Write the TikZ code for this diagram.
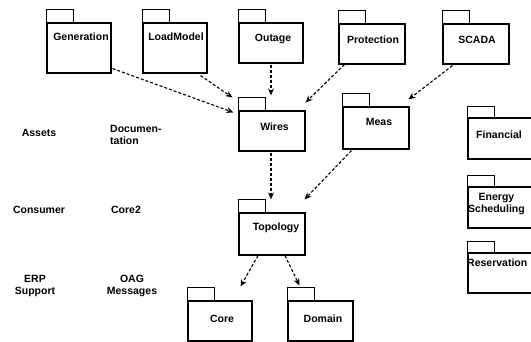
\documentclass[tikz,border=0pt]{standalone}
\usepackage{fontspec}
\setmainfont{Liberation Sans}
\usetikzlibrary{arrows.meta,calc}
\begin{document}
\begin{tikzpicture}[x=1pt,y=-1pt,
  pkgbody/.style={draw=black, line width=1.1pt, minimum width=66pt, minimum height=40pt, inner sep=0pt},
  pkgtab/.style={draw=black, line width=1.1pt},
  lbl/.style={font=\bfseries\fontsize{10.5}{12}\selectfont, inner sep=0pt, align=center},
  dep/.style={draw=black, line width=1.1pt, dash pattern=on 3pt off 2pt,
    -{Stealth[open, length=7pt, width=6pt]}}]
\useasboundingbox (0,0) rectangle (531,342);

% package bodies
\node[pkgbody, minimum width=64pt, minimum height=50pt] (gen)   at (79,48) {};
\node[pkgbody, minimum width=64pt, minimum height=50pt] (load)  at (175,48) {};
\node[pkgbody, minimum width=64pt] (outage) at (271,43) {};
\node[pkgbody] (prot)   at (372,44) {};
\node[pkgbody] (scada)  at (476,44) {};
\node[pkgbody] (wires)  at (272,131) {};
\node[pkgbody, minimum height=42pt] (meas)  at (376,128) {};
\node[pkgbody, minimum height=42pt] (topo)  at (272,234) {};
\node[pkgbody, minimum width=64pt] (core)   at (220,321) {};
\node[pkgbody, minimum width=65pt] (domain) at (320.5,321) {};
\node[pkgbody, minimum height=41pt] (fin)   at (501,138.5) {};
\node[pkgbody, minimum height=41pt] (energy) at (501,207.5) {};
\node[pkgbody] (resv)   at (501,273) {};

% package tabs
\foreach \p in {gen,load,outage,prot,scada,wires,meas,topo,core,domain}
  \draw[pkgtab] (\p.north west) rectangle ++(27,-13);
\foreach \p in {fin,energy,resv}
  \draw[pkgtab] (\p.north west) rectangle ++(27,-11);

% package names
\node[lbl] at (81,37)  {Generation};
\node[lbl] at (176,37) {LoadModel};
\node[lbl] at (273,39) {Outage};
\node[lbl] at (373,40) {Protection};
\node[lbl] at (477,40) {SCADA};
\node[lbl] at (274.5,127) {Wires};
\node[lbl] at (379,122) {Meas};
\node[lbl] at (276,228) {Topology};
\node[lbl] at (222,319) {Core};
\node[lbl] at (323,319) {Domain};
\node[lbl] at (499,135) {Financial};
\node[lbl, anchor=west, align=center] at (468,204) {Energy\\Scheduling};
\node[lbl, anchor=west] at (467,263) {Reservation};

% packages without boxes
\node[lbl] (assets)   at (39,133) {Assets};
\node[lbl, anchor=west, align=left] (doc) at (110,135) {Documen-\\tation};
\node[lbl] (consumer) at (39,210) {Consumer};
\node[lbl] (core2)    at (126,210) {Core2};
\node[lbl] (erp)      at (35,286) {ERP\\Support};
\node[lbl] (oag)      at (132,286) {OAG\\Messages};

% dependencies
\draw[dep] ($(gen.south east)+(1,-5)$) -- ($(wires.north west)+(-5,2)$);
\draw[dep] ($(load.south east)+(-7,2)$) -- ($(wires.north west)+(-6,-13)$);
\draw[dep] ($(outage.south)+(0,1)$) -- ($(wires.north)+(-1,-15)$);
\draw[dep] ($(prot.south west)+(6,0)$) -- ($(wires.north east)+(0,-8)$);
\draw[dep] ($(scada.south west)+(10,1)$) -- ($(meas.north east)+(-1,-7)$);
\draw[dep] ($(wires.south)+(-1,1)$) -- ($(topo.north)+(-1,-13)$);
\draw[dep] ($(meas.south west)+(9,1)$) -- ($(topo.north east)+(-1,-13)$);
\draw[dep] ($(topo.south)+(-14,0)$) -- ($(core.north east)+(-12,-14)$);
\draw[dep] ($(topo.south)+(13,0)$) -- ($(domain.north west)+(12,-15)$);
\end{tikzpicture}
\end{document}
